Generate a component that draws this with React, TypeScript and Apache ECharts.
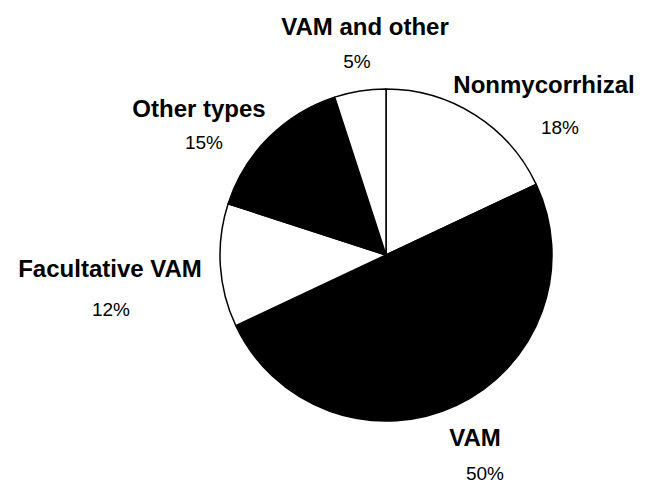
import React, { useEffect, useRef } from "react";
import * as echarts from "echarts";

const categories = ["Nonmycorrhizal", "VAM", "Facultative VAM", "Other types", "VAM and other"];
const percents = [18, 50, 12, 15, 5];
const sliceColors = ["#ffffff", "#000000", "#ffffff", "#000000", "#ffffff"];

// label anchor positions (centers) in pixels
const namePos: [number, number][] = [
  [544, 84],
  [475, 437],
  [110, 268],
  [199, 108],
  [365, 26],
];
const pctPos: [number, number][] = [
  [560, 127],
  [485, 473],
  [111, 309],
  [204, 142],
  [357, 61],
];

const FONT = "'Liberation Sans', Arial, Helvetica, sans-serif";

export default function App() {
  const ref = useRef<HTMLDivElement>(null);
  useEffect(() => {
    if (!ref.current) return;
    const chart = echarts.init(ref.current, undefined, { renderer: "svg" });
    const data = categories.map((name, i) => ({
      name,
      value: percents[i],
      itemStyle: { color: sliceColors[i] },
    }));
    const center = [386, 255];
    const radius = 166;
    chart.setOption({
      animation: false,
      backgroundColor: "#ffffff",
      series: [
        {
          type: "pie",
          center,
          radius,
          startAngle: 90,
          clockwise: true,
          data,
          itemStyle: { borderColor: "#000000", borderWidth: 1.5 },
          emphasis: { disabled: true },
          labelLine: { show: false },
          label: {
            show: true,
            formatter: "{b}",
            overflow: "none",
            fontFamily: FONT,
            fontWeight: "bold",
            fontSize: 24,
            color: "#000000",
          },
          labelLayout: (p: any) => ({
            x: namePos[p.dataIndex][0],
            y: namePos[p.dataIndex][1],
            align: "center",
            verticalAlign: "middle",
          }),
        },
        {
          type: "pie",
          center,
          radius,
          startAngle: 90,
          clockwise: true,
          silent: true,
          data: categories.map((name, i) => ({ name, value: percents[i] })),
          itemStyle: { color: "rgba(0,0,0,0)", borderWidth: 0 },
          emphasis: { disabled: true },
          labelLine: { show: false },
          label: {
            show: true,
            formatter: "{c}%",
            overflow: "none",
            fontFamily: FONT,
            fontWeight: "normal",
            fontSize: 19,
            color: "#000000",
          },
          labelLayout: (p: any) => ({
            x: pctPos[p.dataIndex][0],
            y: pctPos[p.dataIndex][1],
            align: "center",
            verticalAlign: "middle",
          }),
        },
      ],
    });
    return () => chart.dispose();
  }, []);
  return (
    <div
      ref={ref}
      style={{ position: "fixed", left: 0, top: 0, width: 647, height: 484 }}
    />
  );
}
